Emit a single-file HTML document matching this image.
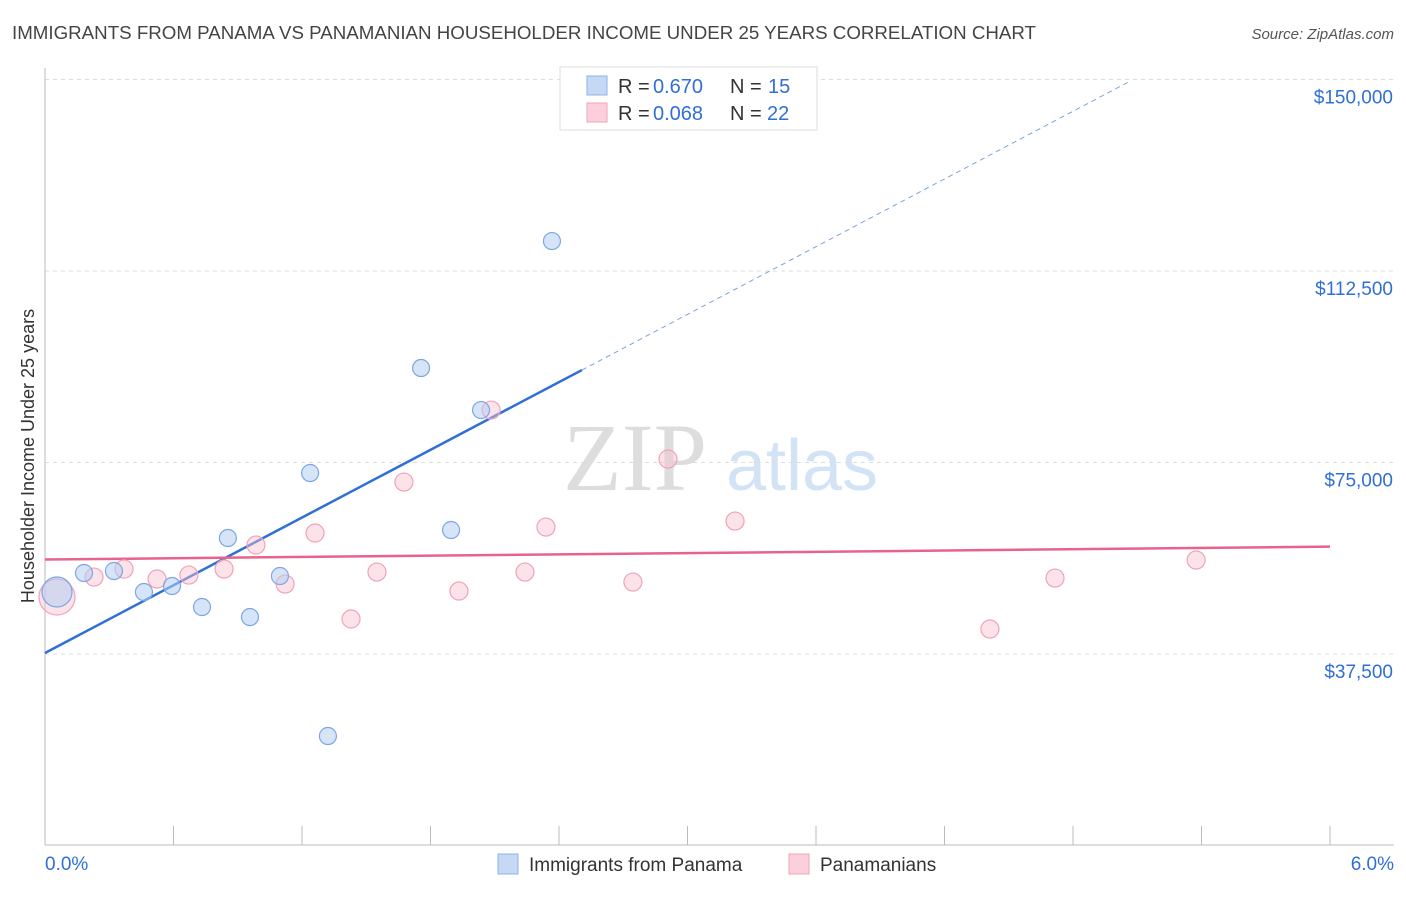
<!DOCTYPE html>
<html><head><meta charset="utf-8"><style>
body{margin:0;background:#fff;font-family:"Liberation Sans",sans-serif;}
</style></head><body>
<svg id="chart" width="1406" height="892" xmlns="http://www.w3.org/2000/svg" font-family="Liberation Sans, sans-serif">
<text x="12" y="39" font-size="18" fill="#444" textLength="1024" lengthAdjust="spacingAndGlyphs">IMMIGRANTS FROM PANAMA VS PANAMANIAN HOUSEHOLDER INCOME UNDER 25 YEARS CORRELATION CHART</text>
<text x="1394" y="39" font-size="15" fill="#555" text-anchor="end" font-style="italic">Source: ZipAtlas.com</text>
<g>
<text x="635" y="490" font-size="96" fill="#ddd" font-family="Liberation Serif, serif" text-anchor="middle">ZIP</text>
<text x="802" y="490" font-size="72" fill="#d3e3f6" text-anchor="middle">atlas</text>
</g>
<g id="grid"></g><g id="axes"></g><g id="lines"></g><g id="points"></g>
<g>
<rect x="560" y="67" width="257" height="63" fill="#fff" stroke="#ddd"/>
<rect x="587" y="76" width="20" height="19" fill="#c5d9f5" stroke="#8fb1e6"/>
<text x="618" y="93" font-size="20" fill="#333">R = </text>
<text x="653" y="93" font-size="20" fill="#2f6fd6">0.670</text>
<text x="730" y="93" font-size="20" fill="#333">N = </text>
<text x="768" y="93" font-size="20" fill="#2f6fd6">15</text>
<rect x="587" y="103" width="20" height="19" fill="#fbd0dc" stroke="#f0a3b9"/>
<text x="618" y="120" font-size="20" fill="#333">R = </text>
<text x="653" y="120" font-size="20" fill="#2f6fd6">0.068</text>
<text x="730" y="120" font-size="20" fill="#333">N = </text>
<text x="767" y="120" font-size="20" fill="#2f6fd6">22</text>
</g>
<g>
<rect x="498" y="854" width="20" height="20" fill="#c5d9f5" stroke="#8fb1e6"/>
<text x="529" y="871" font-size="19" fill="#333">Immigrants from Panama</text>
<rect x="789" y="854" width="20" height="20" fill="#fbd0dc" stroke="#f0a3b9"/>
<text x="820" y="871" font-size="19" fill="#333">Panamanians</text>
</g>
<text transform="translate(34,456) rotate(-90)" font-size="18" fill="#333" text-anchor="middle">Householder Income Under 25 years</text>
</svg>
<script>
const yTicks=[37500,75000,112500,150000];
const yTickLabels=["$37,500","$75,000","$112,500","$150,000"];
const blueX=[0.056,0.182,0.322,0.462,0.593,0.733,0.854,0.957,1.097,1.238,1.321,1.756,1.896,2.036,2.367];
const blueY=[49640,53360,53750,49640,50810,46700,60210,44740,52770,72940,21440,93500,61780,85270,118360];
const pinkX=[0.056,0.229,0.369,0.523,0.672,0.836,0.985,1.121,1.261,1.429,1.550,1.676,1.933,2.083,2.241,2.339,2.745,2.909,3.222,4.412,4.716,5.375];
const pinkY=[48660,52570,54140,52180,52960,54140,58840,51200,61190,44350,53550,71170,49830,85270,53550,62360,51590,75680,63530,42390,52370,55900];
const blueTrend=[37700,22100];
const pinkTrend=[56000,420];
const NS="http://www.w3.org/2000/svg";
const X=v=>45+v/6*1285, Y=v=>845.5-v*191.5/37500;
function mk(t,a,p){const e=document.createElementNS(NS,t);for(const k in a)e.setAttribute(k,a[k]);p.appendChild(e);return e;}
const grid=document.getElementById('grid'),axes=document.getElementById('axes'),lines=document.getElementById('lines'),pts=document.getElementById('points');
yTicks.forEach((v,i)=>{
 const l=mk('line',{x1:45,x2:1394,y1:Y(v),y2:Y(v),stroke:'#ddd','stroke-dasharray':'4,4'},grid);
 
 
 const t=mk('text',{x:1393,y:Y(v)+24,'font-size':19,fill:'#2f6fd6','text-anchor':'end'},axes);
 t.textContent=yTickLabels[i];
 
 
});
mk('line',{x1:45,x2:45,y1:68,y2:845,stroke:'#bbb'},axes);
mk('line',{x1:45,x2:1394,y1:845,y2:845,stroke:'#bbb'},axes);
for(let i=0;i<=10;i++){const x=X(i*0.6);mk('line',{x1:x,x2:x,y1:826,y2:845,stroke:'#bbb'},axes);}
let t=mk('text',{x:45,y:870,'font-size':19,fill:'#2f6fd6'},axes);t.textContent='0.0%';


t=mk('text',{x:1394,y:870,'font-size':19,fill:'#2f6fd6','text-anchor':'end'},axes);t.textContent='6.0%';


const bf=x=>blueTrend[0]+blueTrend[1]*x, pf=x=>pinkTrend[0]+pinkTrend[1]*x;
let l=mk('line',{x1:X(0),y1:Y(bf(0)),x2:X(2.507),y2:Y(bf(2.507)),stroke:'#2f6fd6','stroke-width':2.5},lines);


l=mk('line',{x1:X(2.507),y1:Y(bf(2.507)),x2:X(5.065),y2:Y(bf(5.065)),stroke:'#7aa3e0','stroke-width':1,'stroke-dasharray':'5,4'},lines);


l=mk('line',{x1:X(0),y1:Y(pf(0)),x2:X(6),y2:Y(pf(6)),stroke:'#e8638b','stroke-width':2.5},lines);


pinkX.forEach((x,i)=>{const c=mk('circle',{cx:X(x),cy:Y(pinkY[i]),r:i==0?18:9,fill:'rgba(248,190,206,0.45)',stroke:'#f0a3b9','stroke-width':1.2},pts);
 
 });
blueX.forEach((x,i)=>{const c=mk('circle',{cx:X(x),cy:Y(blueY[i]),r:i==0?15:8.5,fill:'rgba(180,206,243,0.55)',stroke:'#7ea6e3','stroke-width':1.2},pts);
 
 });
</script>
</body></html>
